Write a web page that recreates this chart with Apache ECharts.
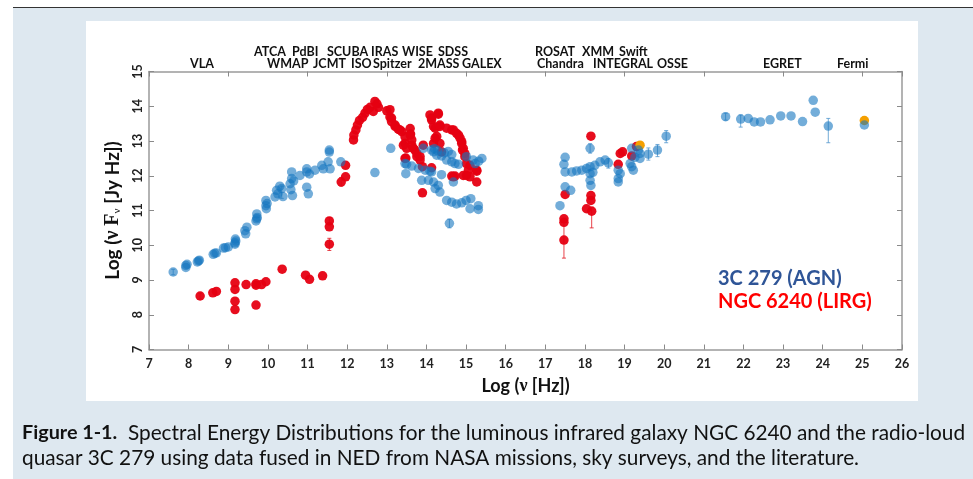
<!DOCTYPE html>
<html>
<head>
<meta charset="utf-8">
<script src="https://cdn.jsdelivr.net/npm/echarts@6/dist/echarts.min.js"></script>
<style>
  html, body { margin: 0; padding: 0; background: #fff; }
  #page { position: absolute; left: 13px; top: 7px; width: 960px; height: 472px;
          background: #dee8f0; border-top: 1.5px solid #333; box-sizing: border-box; }
  #panel { position: absolute; left: 86px; top: 21px; width: 832px; height: 380px; background: #fff; }
  #chart { position: absolute; left: 0; top: 0; width: 973px; height: 479px; }
</style>
</head>
<body>
<div id="page"></div>
<div id="panel"></div>
<div id="chart"></div>
<script>
// 3C 279 (AGN): log nu [Hz], log nuFnu [Jy Hz]
var agnNu = [
  7.61, 7.93, 7.93, 7.96, 8.22, 8.27, 8.25, 8.62, 8.66, 8.70, 8.88, 8.93, 9.00,
  9.17, 9.18, 9.17, 9.19, 9.42, 9.47, 9.44, 9.72, 9.72, 9.73, 9.70, 9.95, 9.95,
  9.96, 9.98, 10.18, 10.22, 10.25, 10.35, 10.38, 10.30, 10.56, 10.60, 10.60, 10.62,
  10.58, 10.65, 10.81, 10.98, 10.98, 11.02, 10.98, 11.05, 11.19, 11.36, 11.40,
  11.52, 11.55, 11.55, 11.57, 11.84,
  12.70, 13.10, 13.46, 13.50, 13.63, 13.80, 13.97, 14.09, 13.48, 13.92, 14.13,
  14.18, 14.26, 14.38, 14.51, 14.64, 14.72, 14.81, 14.64, 15.01, 15.18, 15.40,
  15.23, 14.13, 14.05, 14.18, 14.38, 14.30, 14.22, 14.34, 14.68, 14.51, 14.64,
  14.76, 14.89, 15.00, 15.12, 15.10, 15.31, 15.31, 14.58, 13.88, 14.20, 14.28,
  14.45, 14.55, 15.32,
  17.50, 17.47, 17.50, 17.67, 17.79, 17.92, 18.04, 18.13, 18.13, 18.13, 18.15,
  18.20, 18.25, 18.38, 18.51, 18.59, 17.50, 17.64, 17.37, 18.13, 18.84, 18.89,
  18.84, 18.84, 19.14, 19.18, 19.22, 19.18, 19.35, 19.39, 19.26, 19.39, 19.60,
  19.83, 20.05,
  21.55, 21.93, 22.12, 22.27, 22.43, 22.67, 22.94, 23.20, 23.49, 23.76, 23.81,
  24.14, 25.05
];
var agnFlux = [
  9.23, 9.36, 9.42, 9.45, 9.52, 9.57, 9.55, 9.74, 9.77, 9.78, 9.92, 9.93, 9.95,
  10.07, 10.18, 10.03, 10.12, 10.42, 10.52, 10.33, 10.76, 10.90, 10.80, 10.70, 11.14, 11.29,
  11.05, 11.20, 11.39, 11.58, 11.48, 11.63, 11.40, 11.70, 11.77, 11.92, 12.11, 11.43,
  11.60, 11.85, 12.01, 12.11, 11.67, 11.48, 12.20, 12.05, 12.16, 12.30, 12.20,
  12.40, 12.74, 12.68, 12.20, 12.40,
  12.09, 12.79, 12.35, 12.33, 12.28, 12.21, 12.16, 12.13, 12.06, 12.79, 12.74,
  12.69, 12.59, 12.57, 12.45, 12.40, 12.35, 12.33, 12.61, 12.55, 12.45, 12.50,
  12.35, 12.11, 11.87, 11.82, 12.03, 11.72, 11.63, 11.53, 11.82, 11.29, 11.24,
  11.19, 11.22, 11.29, 11.34, 11.05, 11.03, 11.14, 10.63, 11.87, 12.78, 12.72,
  12.66, 12.70, 12.42,
  12.53, 12.33, 12.11, 12.11, 12.14, 12.16, 12.21, 12.26, 12.06, 11.87, 11.72,
  12.10, 12.30, 12.40, 12.45, 12.37, 11.68, 11.58, 11.14, 12.79, 12.16, 12.06,
  11.92, 11.82, 12.35, 12.26, 12.16, 12.79, 12.74, 12.64, 12.53, 12.50, 12.62,
  12.74, 13.14,
  13.70, 13.63, 13.65, 13.55, 13.55, 13.61, 13.72, 13.72, 13.56, 14.17, 13.83,
  13.43, 13.46
];

// NGC 6240 (LIRG)
var lirgNu = [
  8.29, 8.61, 8.70, 9.17, 9.17, 9.17, 9.17, 9.45, 9.70, 9.70, 9.70, 9.84, 9.95,
  10.36, 10.95, 11.05, 11.38, 11.55, 11.55, 11.55, 11.85, 11.96, 11.96,
  12.16, 12.17, 12.22, 12.26, 12.31, 12.39, 12.45, 12.51, 12.58, 12.66, 12.70,
  12.75, 12.79, 13.00, 13.08, 13.08, 13.12, 13.12, 13.21, 13.21, 13.29, 13.33,
  13.38, 13.46, 13.59, 13.60, 13.59, 13.42, 13.46, 13.50, 13.63, 13.63, 13.67,
  13.71, 13.46, 13.48, 13.76, 13.76, 13.84, 13.84, 13.92, 13.90, 14.13, 13.90,
  14.09, 14.13, 14.13, 14.30, 14.30, 14.18, 14.22, 14.34, 14.26, 14.22, 14.34,
  14.18, 14.34, 14.38, 14.51, 14.64, 14.68, 14.76, 14.81, 14.85, 14.89, 14.89,
  14.91, 14.93, 14.97, 14.97, 15.01, 15.06, 15.10, 15.10, 15.27, 15.27, 15.27,
  15.01, 14.68, 14.64, 14.72, 14.93,
  18.15, 17.50, 17.47, 17.47, 17.47, 18.15, 18.15, 18.04, 18.17, 18.89, 18.95,
  18.84, 19.18, 19.30
];
var lirgFlux = [
  8.54, 8.63, 8.67, 8.92, 8.73, 8.39, 8.15, 8.87, 8.89, 8.85, 8.28, 8.87, 8.95,
  9.31, 9.14, 9.02, 9.12, 10.03, 10.53, 10.70, 11.82, 11.97, 12.30,
  13.03, 13.17, 13.32, 13.46, 13.59, 13.68, 13.80, 13.91, 13.97, 13.85, 14.14,
  14.07, 13.97, 13.87, 13.90, 13.69, 13.56, 13.66, 13.46, 13.42, 13.34, 13.32,
  13.27, 13.12, 13.36, 13.20, 13.17, 12.88, 12.93, 12.79, 13.03, 12.88, 12.79,
  12.74, 12.50, 12.51, 12.64, 12.55, 12.55, 12.45, 12.88, 12.26, 12.23, 11.51,
  13.75, 13.61, 13.66, 13.80, 13.77, 13.42, 13.37, 13.42, 13.13, 13.08, 13.46,
  12.93, 12.93, 12.69, 13.37, 13.32, 13.32, 13.22, 13.17, 13.08, 12.98, 12.93,
  12.74, 12.79, 12.64, 12.55, 12.35, 12.16, 12.30, 11.97, 12.16, 12.13, 11.82,
  12.01, 11.97, 11.99, 11.99, 12.01,
  13.14, 11.46, 10.76, 10.66, 10.15, 11.43, 11.29, 11.05, 10.98, 12.64, 12.69,
  12.33, 12.57, 12.84
];

// extra (orange) points
var otherNu = [19.39, 25.05];
var otherFlux = [12.88, 13.59];

// error bars: [log nu, low, high]
var agnErr = [
  [7.61, 9.15, 9.31], [10.35, 11.35, 11.7], [14.58, 10.50, 10.75], [18.13, 12.65, 12.92],
  [18.59, 12.22, 12.5], [19.60, 12.45, 12.8], [19.83, 12.55, 12.9], [20.05, 12.95, 13.3],
  [21.55, 13.6, 13.8], [21.93, 13.4, 13.75], [24.14, 12.95, 13.65]
];
var lirgErr = [
  [8.29, 8.45, 8.62], [11.55, 9.85, 10.2], [11.55, 10.6, 10.8], [11.85, 11.7, 11.95],
  [17.47, 9.63, 10.7], [18.17, 10.5, 11.1]
];

var topRow = [
  ['ATCA', 254], ['PdBI', 292], ['SCUBA', 327], ['IRAS', 371], ['WISE', 402], ['SDSS', 438],
  ['ROSAT', 535], ['XMM', 582], ['Swift', 619]
];
var bottomRow = [
  ['VLA', 190], ['WMAP', 267], ['JCMT', 313], ['ISO', 351], ['Spitzer', 373], ['2MASS', 418],
  ['GALEX', 462], ['Chandra', 537], ['INTEGRAL', 593], ['OSSE', 657], ['EGRET', 763], ['Fermi', 837]
];

var FONT = 'Lato, "Open Sans", sans-serif';

function pairs(xs, ys) {
  return xs.map(function(x, i) { return [x, ys[i]]; });
}

function errBars(color) {
  return function(params, api) {
    var a = api.coord([api.value(0), api.value(1)]);
    var b = api.coord([api.value(0), api.value(2)]);
    var st = { stroke: color, lineWidth: 1 };
    return {
      type: 'group',
      children: [
        { type: 'line', shape: { x1: a[0], y1: a[1], x2: b[0], y2: b[1] }, style: st },
        { type: 'line', shape: { x1: a[0] - 2, y1: a[1], x2: a[0] + 2, y2: a[1] }, style: st },
        { type: 'line', shape: { x1: b[0] - 2, y1: b[1], x2: b[0] + 2, y2: b[1] }, style: st }
      ]
    };
  };
}

function txt(s, x, y, size, color) {
  return {
    type: 'text', x: x, y: y, silent: true,
    style: { text: s, font: 'bold ' + size + 'px ' + FONT, fill: color,
             textVerticalAlign: 'middle', verticalAlign: 'middle' }
  };
}

var graphics = [];
topRow.forEach(function(t) { graphics.push(txt(t[0], t[1], 52, 12.5, '#111')); });
bottomRow.forEach(function(t) { graphics.push(txt(t[0], t[1], 63.5, 12.5, '#111')); });
graphics.push(txt('3C 279 (AGN)', 718, 279, 20, '#2f5597'));
graphics.push(txt('NGC 6240 (LIRG)', 718, 302, 20, '#ff0000'));
graphics.push({
  type: 'text', x: 22, y: 433, silent: true,
  style: {
    text: '{b|Figure 1-1.}  Spectral Energy Distributions for the luminous infrared galaxy NGC 6240 and the radio-loud',
    font: '20.8px ' + FONT, fill: '#111', textVerticalAlign: 'middle', verticalAlign: 'middle',
    rich: { b: { font: 'bold 19.8px ' + FONT, fill: '#111' } }
  }
});
graphics.push({
  type: 'text', x: 22, y: 458, silent: true,
  style: {
    text: 'quasar 3C 279 using data fused in NED from NASA missions, sky surveys, and the literature.',
    font: '20.8px ' + FONT, fill: '#111', textVerticalAlign: 'middle', verticalAlign: 'middle'
  }
});

var axisGray = { lineStyle: { color: '#9a9a9a', width: 1.5 } };
var tickIn = { show: true, inside: true, length: 5, lineStyle: { color: '#8a8a8a', width: 1 } };

var chart = echarts.init(document.getElementById('chart'), null, { renderer: 'canvas' });
chart.setOption({
  animation: false,
  backgroundColor: 'transparent',
  textStyle: { fontFamily: FONT },
  grid: { left: 149, right: 71, top: 71.5, bottom: 129.5, containLabel: false },
  xAxis: [{
    type: 'value', min: 7, max: 26, interval: 1, position: 'bottom',
    axisLine: axisGray, axisTick: tickIn, splitLine: { show: false },
    axisLabel: { fontFamily: FONT, fontWeight: 'bold', fontSize: 12.5, color: '#222', margin: 8 },
    name: '{b|Log (}{s|ν}{b| [Hz])}', nameLocation: 'middle', nameGap: 28,
    nameTextStyle: { rich: {
      b: { fontFamily: FONT, fontWeight: 'bold', fontSize: 18, color: '#111' },
      s: { fontFamily: '"Liberation Serif", serif', fontWeight: 'bold', fontSize: 18, color: '#111' }
    } }
  }, {
    type: 'value', min: 7, max: 26, interval: 2, position: 'top',
    axisLine: axisGray, axisTick: tickIn, axisLabel: { show: false }, splitLine: { show: false }
  }],
  yAxis: [{
    type: 'value', min: 7, max: 15, interval: 1, position: 'left',
    axisLine: axisGray, axisTick: tickIn, splitLine: { show: false },
    axisLabel: { fontFamily: FONT, fontWeight: 'bold', fontSize: 12.5, color: '#222', rotate: 90, margin: 5 },
    name: '{b|Log (}{s|ν F}{sub|ν}{b| [Jy Hz])}', nameLocation: 'middle', nameGap: 23, nameRotate: 90,
    nameTextStyle: { rich: {
      b: { fontFamily: FONT, fontWeight: 'bold', fontSize: 19, color: '#111' },
      s: { fontFamily: '"Liberation Serif", serif', fontWeight: 'bold', fontSize: 20, color: '#111' },
      sub: { fontFamily: '"Liberation Serif", serif', fontSize: 11, color: '#111', padding: [9, 0, 0, 0] }
    } }
  }, {
    type: 'value', min: 7, max: 15, interval: 1, position: 'right',
    axisLine: axisGray, axisTick: tickIn, axisLabel: { show: false }, splitLine: { show: false }
  }],
  series: [{
    type: 'custom', renderItem: errBars('rgba(80,150,205,0.8)'),
    data: agnErr, encode: { x: 0, y: [1, 2] }, z: 1, silent: true
  }, {
    type: 'custom', renderItem: errBars('rgba(225,20,30,0.8)'),
    data: lirgErr, encode: { x: 0, y: [1, 2] }, z: 1, silent: true
  }, {
    name: 'NGC 6240 (LIRG)', type: 'scatter', data: pairs(lirgNu, lirgFlux),
    symbolSize: 9.5, itemStyle: { color: '#e60012', opacity: 0.95 }, z: 2
  }, {
    name: 'other', type: 'scatter', data: pairs(otherNu, otherFlux),
    symbolSize: 9.5, itemStyle: { color: '#f5a000', opacity: 1 }, z: 2
  }, {
    name: '3C 279 (AGN)', type: 'scatter', data: pairs(agnNu, agnFlux),
    symbolSize: 9.5, itemStyle: { color: '#1577bf', opacity: 0.6 }, z: 3
  }],
  graphic: graphics
});
</script>
</body>
</html>
